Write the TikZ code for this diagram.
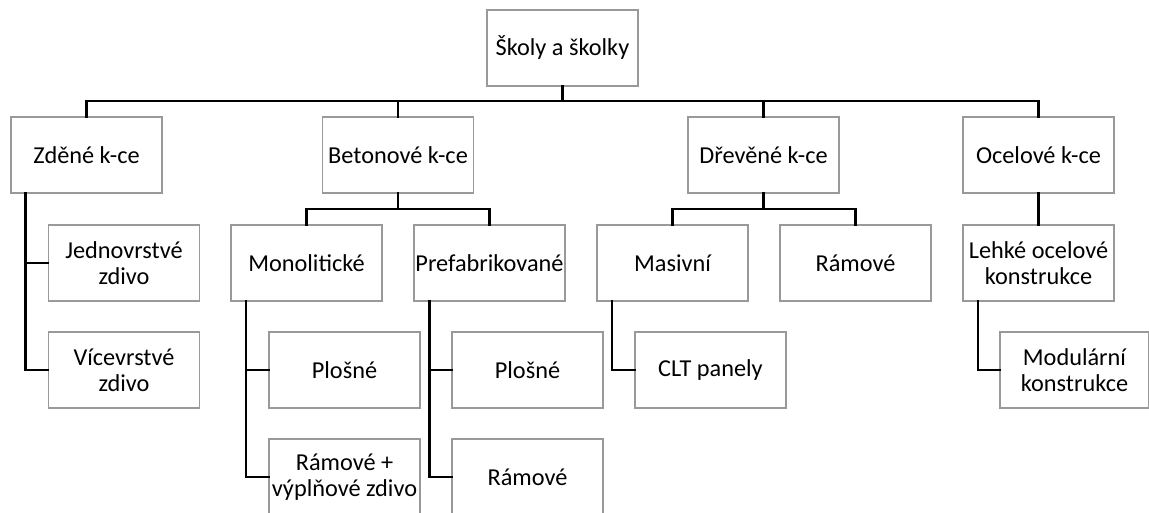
\documentclass[tikz,border=0pt]{standalone}
\usepackage{fontspec}
\setmainfont{Carlito}
\begin{document}
\begin{tikzpicture}[x=1pt,y=-1pt,
  box/.style={draw=black!40, line width=1.3pt, fill=white, minimum width=151pt, minimum height=76pt,
    inner sep=0pt, align=center, font=\fontsize{24.3}{26}\selectfont},
  conn/.style={line width=2.4pt, black, line cap=rect}]
\useasboundingbox (0,0) rectangle (1149,512);
\clip (0,0) rectangle (1149,512);
% level 0
\node[box] (root) at (562.5,48) {Školy a školky};
% level 1
\node[box] (zd) at (86.5,155) {Zděné k-ce};
\node[box] (bet) at (398,155) {Betonové k-ce};
\node[box] (dre) at (763.5,155) {Dřevěné k-ce};
\node[box] (oc) at (1038.5,155) {Ocelové k-ce};
% level 2
\node[box] (jed) at (124,263) {Jednovrstvé\\zdivo};
\node[box] (mon) at (306.5,263) {Monolitické};
\node[box] (pre) at (489.5,263) {Prefabrikované};
\node[box] (mas) at (672.5,263) {Masivní};
\node[box] (ram) at (855.5,263) {Rámové};
\node[box] (leh) at (1038.5,263) {Lehké ocelové\\konstrukce};
% level 3
\node[box] (vic) at (124,370) {Vícevrstvé\\zdivo};
\node[box] (plm) at (344.5,370) {Plošné};
\node[box] (plp) at (527.5,370) {Plošné};
\node[box] (clt) at (710.5,370) {CLT panely};
\node[box, minimum width=149pt] (mod) at (1074.5,370) {Modulární\\konstrukce};
% level 4
\node[box] (rvz) at (344.5,477) {Rámové +\\výplňové zdivo};
\node[box] (rpr) at (527.5,477) {Rámové};
% bus coordinates
\coordinate (bus) at (0,101);
\coordinate (busb) at (0,209);
% connectors level 0-1
\draw[conn] (root.south) -- (root.south |- bus);
\draw[conn] (zd.north) -- (zd.north |- bus) -- (oc.north |- bus) -- (oc.north);
\draw[conn] (bet.north) -- (bet.north |- bus);
\draw[conn] (dre.north) -- (dre.north |- bus);
% level 1-2
\draw[conn] (bet.south) -- (bet.south |- busb);
\draw[conn] (mon.north) -- (mon.north |- busb) -- (pre.north |- busb) -- (pre.north);
\draw[conn] (dre.south) -- (dre.south |- busb);
\draw[conn] (mas.north) -- (mas.north |- busb) -- (ram.north |- busb) -- (ram.north);
\draw[conn] (oc.south) -- (leh.north);
% side connectors
\draw[conn] ([xshift=15pt]zd.south west) |- (jed.west);
\draw[conn] ([xshift=15pt]zd.south west) |- (vic.west);
\draw[conn] ([xshift=15.5pt]mon.south west) |- (plm.west);
\draw[conn] ([xshift=15.5pt]mon.south west) |- (rvz.west);
\draw[conn] ([xshift=16pt]pre.south west) |- (plp.west);
\draw[conn] ([xshift=16pt]pre.south west) |- (rpr.west);
\draw[conn] ([xshift=15.5pt]mas.south west) |- (clt.west);
\draw[conn] ([xshift=15.5pt]leh.south west) |- (mod.west);
\end{tikzpicture}
\end{document}
